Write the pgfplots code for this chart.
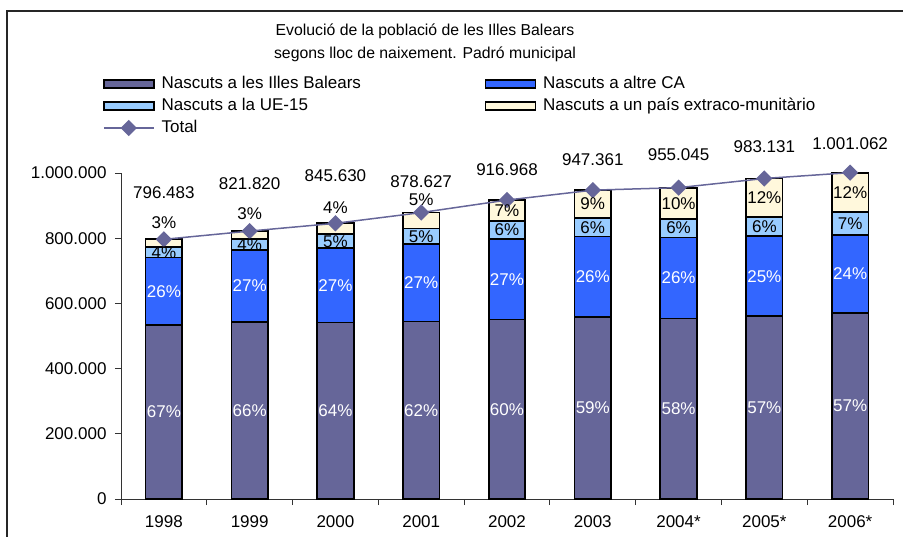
\documentclass[border=0pt]{standalone}
\usepackage{fontspec}
\setmainfont{Liberation Sans}
\usepackage{pgfplots}
\pgfplotsset{compat=1.18}
\definecolor{cB}{HTML}{666699}
\definecolor{cCA}{HTML}{3366FF}
\definecolor{cUE}{HTML}{99CCFF}
\definecolor{cEX}{HTML}{FFF8DC}
\pgfplotsset{common/.style={width=772bp,height=326bp,scale only axis,at={(0,0)},anchor=south west,
  xmin=-0.5,xmax=8.5,ymin=0,ymax=1000000,clip=false},
  swatch/.style={legend image code/.code={\draw[##1,draw=black,line width=1.6bp] (0bp,-4bp) rectangle (50bp,4bp);}},
  linelegend/.style={legend image code/.code={\draw[##1, mark repeat=2, mark phase=2] plot coordinates {(0bp,0bp) (25bp,0bp) (50bp,0bp)};}}}
\begin{document}
\begin{tikzpicture}[font=\fontsize{17bp}{20bp}\selectfont]
\path[use as bounding box] (-121bp,-38bp) rectangle (782bp,499bp);
\draw[line width=1.2bp, black!85] (-114bp,-45bp) -- (-114bp,488bp) -- (790bp,488bp);
\node[font=\fontsize{15.8bp}{18bp}\selectfont] at (304bp,468bp) {Evolució de la població de les Illes Balears};
\node[font=\fontsize{15.8bp}{18bp}\selectfont] at (304bp,445bp) {segons lloc de naixement. Padró municipal};

\begin{axis}[common, ybar stacked, bar width=36.5bp,
  axis x line*=bottom, axis y line*=left,
  axis line style={line width=0.8bp, black!80},
  ytick={0,200000,400000,600000,800000,1000000}, scaled y ticks=false,
  yticklabel style={/pgf/number format/fixed,/pgf/number format/precision=0,
     /pgf/number format/1000 sep={.},/pgf/number format/assume math mode=true, xshift=-5bp},
  xtick={0,...,8}, xticklabels={1998,1999,2000,2001,2002,2003,2004*,2005*,2006*},
  xticklabel style={yshift=-7bp},
  minor xtick={-0.5,0.5,...,8.5},
  tick align=outside, major tick length=6bp, minor tick length=6bp,
  major x tick style={draw=none},
  minor x tick style={line width=0.8bp,black!80},
  major y tick style={line width=0.8bp,black!80},
]
\addplot[fill=cB, draw=black, line width=1.7bp] coordinates {(0,533644) (1,542401) (2,541203) (3,544749) (4,550181) (5,558943) (6,553926) (7,560385) (8,570605)};
\addplot[fill=cCA, draw=black, line width=1.7bp] coordinates {(0,207086) (1,221891) (2,228320) (3,237229) (4,247581) (5,246314) (6,248312) (7,245783) (8,240255)};
\addplot[fill=cUE, draw=black, line width=1.7bp] coordinates {(0,31859) (1,32873) (2,42282) (3,48000) (4,55018) (5,56842) (6,57303) (7,58988) (8,70074)};
\addplot[fill=cEX, draw=black, line width=1.7bp] coordinates {(0,23894) (1,24655) (2,33825) (3,48649) (4,64188) (5,85262) (6,95504) (7,117975) (8,120128)};
\end{axis}

\begin{axis}[common, hide axis,
  legend columns=2, legend cell align=left,
  legend style={at={(-0.02332,1.2975)}, anchor=north west, draw=none, fill=none,
    inner sep=0pt, outer sep=0pt, column sep=7bp, row sep=6bp,
    nodes={inner sep=0pt, text height=12bp, text depth=4bp}},
  every node near coord/.append style={anchor=center, inner sep=0pt},
]
\addlegendimage{fill=cB, swatch}
\addlegendentry{\makebox[316bp][l]{Nascuts a les Illes Balears}}
\addlegendimage{fill=cCA, swatch}
\addlegendentry{Nascuts a altre CA}
\addlegendimage{fill=cUE, swatch}
\addlegendentry{Nascuts a la UE-15}
\addlegendimage{fill=cEX, swatch}
\addlegendentry{Nascuts a un país extraco-munitàrio}

\addplot[color=cB, line width=1.5bp, mark=square*, mark size=5bp,
  mark options={rotate=45, fill=cB, draw=cB}, linelegend]
  coordinates {(0,796483) (1,821820) (2,845630) (3,878627) (4,916968) (5,947361) (6,955045) (7,983131) (8,1001062)};
\addlegendentry{Total}

\addplot[forget plot, only marks, mark=none, nodes near coords={\pgfplotspointmeta\%},
  point meta=explicit symbolic, every node near coord/.append style={text=white}]
  table[x=x, y=y, meta=l, row sep=\\] {
x y l \\
0 266822 67 \\
1 271200 66 \\
2 270601 64 \\
3 272375 62 \\
4 275090 60 \\
5 279471 59 \\
6 276963 58 \\
7 280192 57 \\
8 285302 57 \\
0 637187 26 \\
1 653347 27 \\
2 655363 27 \\
3 663364 27 \\
4 673972 27 \\
5 682100 26 \\
6 678082 26 \\
7 683277 25 \\
8 690733 24 \\
};
\addplot[forget plot, only marks, mark=none, nodes near coords={\pgfplotspointmeta\%},
  point meta=explicit symbolic, every node near coord/.append style={text=black}]
  table[x=x, y=y, meta=l, row sep=\\] {
x y l \\
0 756660 4 \\
1 780729 4 \\
2 790664 5 \\
3 805978 5 \\
4 825271 6 \\
5 833678 6 \\
6 830890 6 \\
7 835662 6 \\
8 845897 7 \\
0 847500 3 \\
1 876000 3 \\
2 893500 4 \\
3 919000 5 \\
4 884874 7 \\
5 904730 9 \\
6 907293 10 \\
7 924144 12 \\
8 940998 12 \\
};
\addplot[forget plot, only marks, mark=none, nodes near coords,
  point meta=explicit symbolic, every node near coord/.append style={text=black}]
  table[x=x, y=y, meta=l, row sep=\\] {
x y l \\
0 939600 796.483 \\
1 968400 821.820 \\
2 991800 845.630 \\
3 973300 878.627 \\
4 1009200 916.968 \\
5 1042000 947.361 \\
6 1055200 955.045 \\
7 1080700 983.131 \\
8 1091100 1.001.062 \\
};
\end{axis}
\end{tikzpicture}
\end{document}
